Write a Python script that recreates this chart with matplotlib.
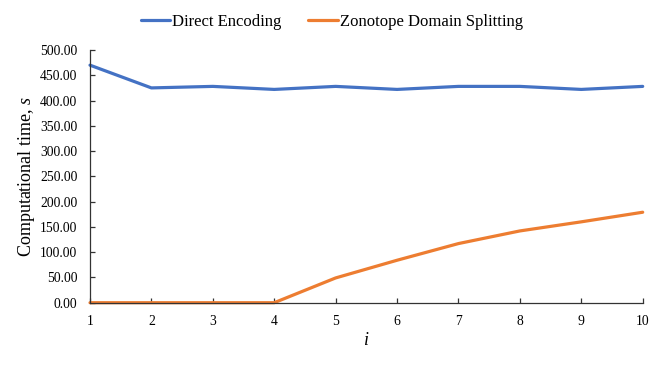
import matplotlib
matplotlib.use('Agg')
import matplotlib.pyplot as plt
from matplotlib.ticker import FormatStrFormatter

# Excel style serif font
plt.rcParams['font.family'] = ['Liberation Serif', 'DejaVu Serif']
plt.rcParams['mathtext.fontset'] = 'custom'
plt.rcParams['mathtext.rm'] = 'Liberation Serif'
plt.rcParams['mathtext.it'] = 'Liberation Serif:italic'

# data
steps = [1, 2, 3, 4, 5, 6, 7, 8, 9, 10]
direct_encoding = [470, 425, 428, 422, 428, 422, 428, 428, 422, 428]
zonotope_splitting = [0, 0, 0, 0, 49, 84, 117, 142, 160, 179]
y_ticks = [0, 50, 100, 150, 200, 250, 300, 350, 400, 450, 500]

fig = plt.figure(figsize=(6.64, 3.66), dpi=100)
ax = fig.add_axes([90 / 664, 1 - 302.7 / 366, (642.7 - 90) / 664, (302.7 - 50) / 366])

ax.plot(steps, direct_encoding, color='#4472C4', linewidth=2.3, label='Direct Encoding',
        solid_capstyle='round', clip_on=False)
ax.plot(steps, zonotope_splitting, color='#ED7D31', linewidth=2.3, label='Zonotope Domain Splitting',
        solid_capstyle='round', clip_on=False)

ax.set_xlim(1, 10)
ax.set_ylim(0, 500)
ax.set_xticks(steps)
ax.set_yticks(y_ticks)
ax.yaxis.set_major_formatter(FormatStrFormatter('%.2f'))

for side in ['top', 'right']:
    ax.spines[side].set_visible(False)
for side in ['left', 'bottom']:
    ax.spines[side].set_color('#333333')
    ax.spines[side].set_linewidth(0.9)

ax.tick_params(axis='y', direction='in', length=3.5, width=0.9, color='#333333',
               labelsize=9.8, pad=9)
ax.tick_params(axis='x', direction='in', length=3.5, width=0.9, color='#333333',
               labelsize=9.8, pad=8.5)

ax.set_ylabel('Computational time, $\\mathit{s}$', fontsize=13, labelpad=2)
ax.set_xlabel('$\\mathit{i}$', fontsize=13, labelpad=3)

fig.legend(loc='center', bbox_to_anchor=(0.5, 1 - 21.5 / 366), ncol=2, frameon=False,
           fontsize=12, handlelength=1.75, handletextpad=0.15, columnspacing=1.6)

fig.savefig('out.png', dpi=100)
